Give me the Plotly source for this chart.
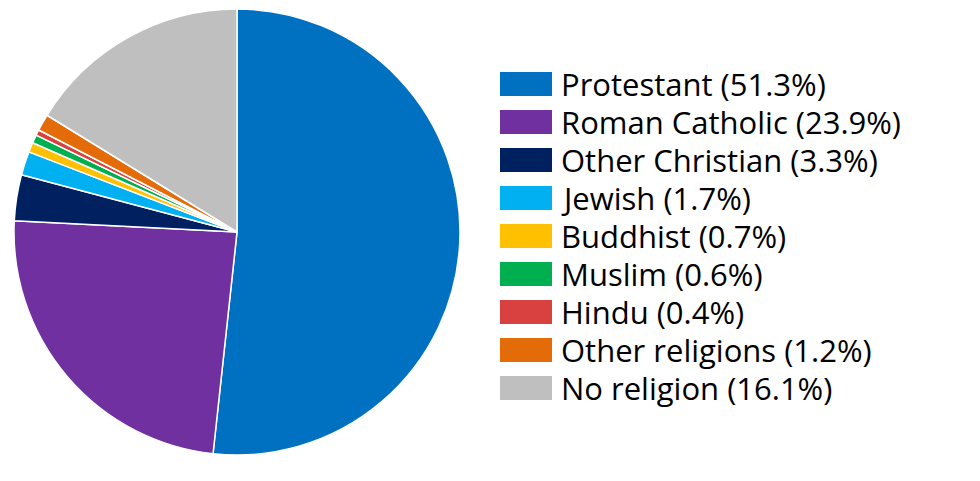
import plotly.graph_objects as go

labels = [
    "Protestant",
    "Roman Catholic",
    "Other Christian",
    "Jewish",
    "Buddhist",
    "Muslim",
    "Hindu",
    "Other religions",
    "No religion",
]
values = [51.3, 23.9, 3.3, 1.7, 0.7, 0.6, 0.4, 1.2, 16.1]
colors = [
    "#0070C0",
    "#7030A0",
    "#002060",
    "#00B0F0",
    "#FFC000",
    "#00B050",
    "#D94040",
    "#E36C09",
    "#BFBFBF",
]

W, H = 980, 481
OFF = 8  # page body margin shifts the figure by this much


def px(x):
    return (x - OFF) / W


def py(y):
    return (H - (y - OFF)) / H


fig = go.Figure()

fig.add_trace(
    go.Pie(
        labels=labels,
        values=values,
        marker=dict(colors=colors, line=dict(color="white", width=1.5)),
        sort=False,
        direction="clockwise",
        rotation=0,
        textinfo="none",
        hoverinfo="label+percent",
        showlegend=False,
        domain=dict(x=[px(14), px(460)], y=[py(455), py(9)]),
    )
)

# hand-built legend with wide swatches, like the original
sw_x0, sw_x1, sw_h = 500, 552, 24
text_x = 559
row_y0, row_step = 84, 38

for i, (lab, val, col) in enumerate(zip(labels, values, colors)):
    cy = row_y0 + i * row_step
    fig.add_shape(
        type="rect",
        xref="paper",
        yref="paper",
        x0=px(sw_x0),
        x1=px(sw_x1),
        y0=py(cy + sw_h / 2),
        y1=py(cy - sw_h / 2),
        fillcolor=col,
        line=dict(width=0),
    )
    fig.add_annotation(
        xref="paper",
        yref="paper",
        x=px(text_x),
        y=py(cy),
        xanchor="left",
        yanchor="middle",
        text=f"{lab} ({val}%)",
        showarrow=False,
        font=dict(family="Open Sans", size=31, color="#000000"),
    )

fig.update_layout(
    width=W,
    height=H,
    margin=dict(l=0, r=0, t=0, b=0),
    paper_bgcolor="white",
    plot_bgcolor="white",
)

fig.write_html("out.html")
